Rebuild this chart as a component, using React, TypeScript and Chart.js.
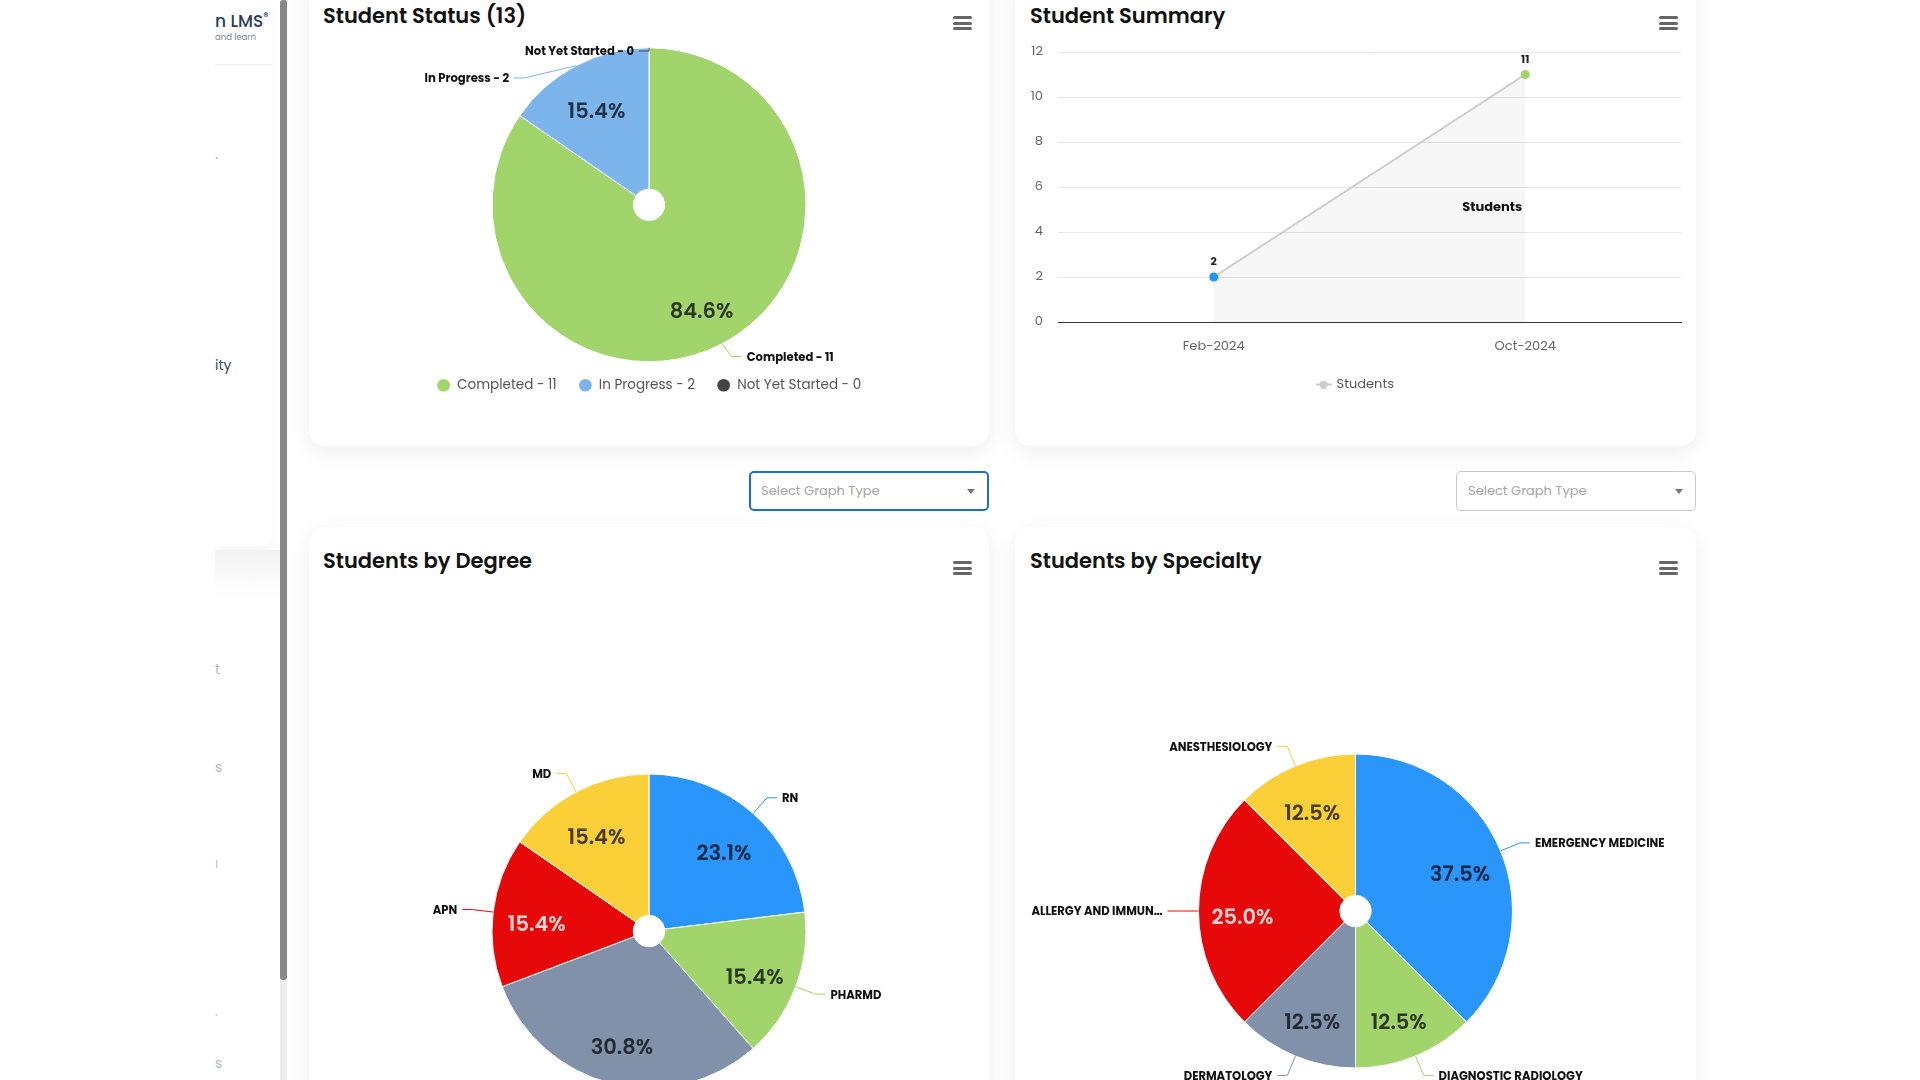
import React, { useEffect, useRef } from 'react';
import { Chart, registerables } from 'chart.js';

Chart.register(...registerables);

const FONT = 'Poppins, "Open Sans", sans-serif';

// ---------- data ----------
const statusLabels = ['Completed', 'In Progress', 'Not Yet Started'];
const statusValues = [11, 2, 0];
const statusColors = ['#a1d46a', '#7cb5ec', '#434348'];
const statusTextColors = ['#2c3722', '#1d3045', '#ffffff'];

const summaryLabels = ['Feb-2024', 'Oct-2024'];
const summaryValues = [2, 11];
const summaryPointColors = ['#2196f3', '#a1d46a'];
const summaryTicks = [0, 2, 4, 6, 8, 10, 12];

const degreeLabels = ['RN', 'PHARMD', 'NP', 'APN', 'MD'];
const degreeValues = [3, 2, 4, 2, 2];
const degreeColors = ['#2a96fc', '#a1d46a', '#8291aa', '#e60808', '#fbcf37'];
const degreeTextColors = ['#0e2743', '#2a381b', '#242a33', '#ffd4d4', '#463a0e'];

const specialtyLabels = ['EMERGENCY MEDICINE', 'DIAGNOSTIC RADIOLOGY', 'DERMATOLOGY', 'ALLERGY AND IMMUNOLOGY', 'ANESTHESIOLOGY'];
const specialtyValues = [3, 1, 1, 2, 1];
const specialtyColors = ['#2a96fc', '#a1d46a', '#8291aa', '#e60808', '#fbcf37'];
const specialtyTextColors = ['#0e2743', '#2a381b', '#242a33', '#ffd4d4', '#463a0e'];

// ---------- plugins ----------
const pieLabelsPlugin = {
  id: 'pieLabels',
  afterDatasetsDraw(chart: any, _args: any, opts: any) {
    const { ctx, chartArea } = chart;
    const meta = chart.getDatasetMeta(0);
    const ds = chart.data.datasets[0];
    const values: number[] = ds.data;
    const total = values.reduce((a, b) => a + b, 0);
    const names: string[] = chart.data.labels;
    ctx.save();
    ctx.textAlign = 'center';
    ctx.textBaseline = 'middle';
    ctx.font = `600 21px ${FONT}`;
    const items: any[] = [];
    meta.data.forEach((arc: any, i: number) => {
      const p = arc.getProps(['x', 'y', 'startAngle', 'endAngle', 'outerRadius'], true);
      const mid = (p.startAngle + p.endAngle) / 2;
      const cos = Math.cos(mid);
      const sin = Math.sin(mid);
      if (values[i] > 0) {
        const rr = p.outerRadius * opts.innerRatio;
        ctx.fillStyle = opts.innerColors[i];
        ctx.fillText(`${((values[i] / total) * 100).toFixed(1)}%`, p.x + cos * rr, p.y + sin * rr + opts.innerDy);
      }
      const R = p.outerRadius + opts.distance;
      items.push({
        i, cx: p.x, cy: p.y, r: p.outerRadius, R, cos, sin,
        side: cos < 0 ? -1 : 1,
        nx: p.x + cos * R, ny: p.y + sin * R,
      });
    });
    const minY = chartArea.top + opts.topInset;
    const maxY = chartArea.bottom - opts.bottomInset;
    [-1, 1].forEach((side) => {
      const list = items.filter((it) => it.side === side).sort((a, b) => a.ny - b.ny);
      list.forEach((it) => { it.y = Math.min(Math.max(it.ny, minY), maxY); it.moved = false; });
      for (let k = 1; k < list.length; k++) {
        if (list[k].y < list[k - 1].y + opts.gap) { list[k].y = list[k - 1].y + opts.gap; list[k].moved = true; }
      }
      for (let k = list.length - 2; k >= 0; k--) {
        if (list[k].y > list[k + 1].y - opts.gap) { list[k].y = list[k + 1].y - opts.gap; list[k].moved = true; }
      }
      list.forEach((it) => {
        if (it.moved) {
          const dy = it.y - it.cy;
          it.x = it.cx + side * Math.sqrt(Math.max(0, it.R * it.R - dy * dy));
        } else {
          it.x = it.nx;
        }
      });
    });
    ctx.font = `bold 11.6px ${FONT}`;
    ctx.textBaseline = 'middle';
    items.forEach((it) => {
      const color = ds.backgroundColor[it.i];
      const x0 = it.cx + it.cos * it.r;
      const y0 = it.cy + it.sin * it.r;
      const x2 = it.x + it.side * 10;
      ctx.strokeStyle = color;
      ctx.lineWidth = 1;
      ctx.beginPath();
      ctx.moveTo(x0, y0);
      ctx.lineTo(it.x, it.y);
      ctx.lineTo(x2, it.y);
      ctx.stroke();
      let text = opts.withValue ? `${names[it.i]} - ${values[it.i]}` : names[it.i];
      const tx = x2 + it.side * 5;
      const avail = it.side < 0 ? tx - opts.minX : chart.width - opts.minX - tx;
      if (ctx.measureText(text).width > avail) {
        let t = text;
        while (t.length > 1 && ctx.measureText(t + '…').width > avail) t = t.slice(0, -1);
        text = t + '…';
      }
      ctx.fillStyle = '#111111';
      ctx.textAlign = it.side < 0 ? 'right' : 'left';
      ctx.fillText(text, tx, it.y + 1.5);
    });
    ctx.restore();
  },
};

const lineLabelsPlugin = {
  id: 'lineLabels',
  afterDatasetsDraw(chart: any, _args: any, opts: any) {
    const { ctx } = chart;
    const meta = chart.getDatasetMeta(0);
    const data: number[] = chart.data.datasets[0].data;
    ctx.save();
    ctx.font = `bold 11px ${FONT}`;
    ctx.fillStyle = '#222222';
    ctx.textAlign = 'center';
    ctx.textBaseline = 'middle';
    meta.data.forEach((pt: any, i: number) => ctx.fillText(String(data[i]), pt.x, pt.y - 14.5));
    const xs = chart.scales.x;
    const ys = chart.scales.y;
    ctx.font = `bold 13px ${FONT}`;
    ctx.fillStyle = '#111111';
    ctx.fillText(opts.text, xs.getPixelForValue(opts.index) + opts.dx, ys.getPixelForValue(opts.value));
    ctx.restore();
  },
};

function makeLineMarker() {
  const c = document.createElement('canvas');
  c.width = 16;
  c.height = 8;
  const g = c.getContext('2d')!;
  g.strokeStyle = '#cccccc';
  g.lineWidth = 2;
  g.beginPath();
  g.moveTo(0, 4);
  g.lineTo(16, 4);
  g.stroke();
  g.fillStyle = '#cccccc';
  g.beginPath();
  g.arc(8, 4, 4, 0, Math.PI * 2);
  g.fill();
  return c;
}

// ---------- configs ----------
function statusConfig(): any {
  return {
    type: 'pie',
    data: {
      labels: statusLabels,
      datasets: [{ data: statusValues, backgroundColor: statusColors, borderColor: '#ffffff', borderWidth: 1, radius: 157, cutout: '10%' }],
    },
    options: {
      responsive: false, animation: false, events: [],
      layout: { padding: { top: 53, bottom: 18, left: 0, right: 0 } },
      plugins: {
        legend: {
          position: 'bottom',
          labels: {
            usePointStyle: true, boxWidth: 14, boxHeight: 9, padding: 22, color: '#555555',
            font: { family: FONT, size: 13.5 },
            generateLabels: () => statusLabels.map((l, i) => ({
              text: `${l} - ${statusValues[i]}`, fillStyle: statusColors[i], strokeStyle: statusColors[i],
              lineWidth: 0, pointStyle: 'circle', hidden: false, index: i, fontColor: '#555555',
            })),
          },
        },
        tooltip: { enabled: false },
        pieLabels: { innerRatio: 0.72, innerDy: 8, innerColors: statusTextColors, distance: 21, gap: 27, topInset: -2, bottomInset: 0, minX: 12, withValue: true },
      },
    },
    plugins: [pieLabelsPlugin],
  };
}

function summaryConfig(): any {
  const marker = makeLineMarker();
  const tickFont = { family: FONT, size: 13 };
  return {
    type: 'line',
    data: {
      labels: summaryLabels,
      datasets: [{
        label: 'Students', data: summaryValues, borderColor: '#cccccc', borderWidth: 2,
        backgroundColor: 'rgba(0,0,0,0.03)', fill: 'origin', tension: 0,
        pointRadius: 4.5, pointBorderWidth: 0, pointBackgroundColor: summaryPointColors,
      }],
    },
    options: {
      responsive: false, animation: false, events: [],
      layout: { padding: { top: 52, bottom: 19, left: 15, right: 15 } },
      scales: {
        x: {
          offset: true,
          grid: { display: false, drawTicks: false },
          border: { display: true, color: '#333333', width: 1 },
          ticks: { color: '#666666', font: tickFont, padding: 17 },
          afterFit: (s: any) => { s.height = 36; },
        },
        y: {
          min: 0, max: 12,
          afterBuildTicks: (s: any) => { s.ticks = summaryTicks.map((v) => ({ value: v })); },
          ticks: { color: '#666666', font: tickFont, padding: 15 },
          grid: { color: (c: any) => (c.tick && c.tick.value === 0 ? 'rgba(0,0,0,0)' : '#e6e6e6'), drawTicks: false },
          border: { display: false },
          afterFit: (s: any) => { s.width = 28; },
        },
      },
      plugins: {
        legend: {
          position: 'bottom',
          labels: {
            usePointStyle: true, padding: 20, color: '#555555', font: { family: FONT, size: 13 },
            generateLabels: () => [{ text: 'Students', pointStyle: marker, fillStyle: '#cccccc', strokeStyle: '#cccccc', lineWidth: 0, hidden: false, datasetIndex: 0, fontColor: '#555555' }],
          },
        },
        tooltip: { enabled: false },
        lineLabels: { text: 'Students', index: 1, dx: -33, value: 5.1 },
      },
    },
    plugins: [lineLabelsPlugin],
  };
}

function pieConfig(labels: string[], values: number[], colors: string[], textColors: string[]): any {
  return {
    type: 'pie',
    data: {
      labels,
      datasets: [{ data: values, backgroundColor: colors, borderColor: '#ffffff', borderWidth: 1, radius: 157, cutout: '10%' }],
    },
    options: {
      responsive: false, animation: false, events: [],
      layout: { padding: 0 },
      plugins: {
        legend: { display: false },
        tooltip: { enabled: false },
        pieLabels: { innerRatio: 0.72, innerDy: 8, innerColors: textColors, distance: 21, gap: 27, topInset: 0, bottomInset: 0, minX: 12, withValue: false },
      },
    },
    plugins: [pieLabelsPlugin],
  };
}

// ---------- components ----------
function ChartCanvas({ make, left, top, width, height }: { make: () => any; left: number; top: number; width: number; height: number }) {
  const ref = useRef<HTMLCanvasElement>(null);
  useEffect(() => {
    const chart = new Chart(ref.current!, make());
    return () => chart.destroy();
  }, []);
  return (
    <canvas ref={ref} width={width} height={height}
      style={{ position: 'absolute', left, top, width, height, display: 'block' }} />
  );
}

function Card({ left, top, width, height }: { left: number; top: number; width: number; height: number }) {
  return (
    <div style={{
      position: 'absolute', left, top, width, height, background: '#ffffff', borderRadius: 16,
      boxShadow: '0 6px 22px rgba(0,0,0,0.07)',
    }} />
  );
}

function Title({ left, top, text }: { left: number; top: number; text: string }) {
  return (
    <div style={{
      position: 'absolute', left, top, height: 30, lineHeight: '30px', fontSize: 21, fontWeight: 600,
      color: '#111111', whiteSpace: 'nowrap', fontFamily: FONT,
    }}>{text}</div>
  );
}

function Burger({ left, top }: { left: number; top: number }) {
  const bar = (t: number) => (
    <div style={{ position: 'absolute', left: 0, top: t, width: 19, height: 3, borderRadius: 1.5, background: '#666666' }} />
  );
  return (
    <div style={{ position: 'absolute', left, top, width: 19, height: 14 }}>
      {bar(0)}{bar(5.5)}{bar(11)}
    </div>
  );
}

function Select({ left, top, focused }: { left: number; top: number; focused: boolean }) {
  return (
    <div style={{
      position: 'absolute', left, top, width: 240, height: 40, boxSizing: 'border-box', borderRadius: 5,
      border: focused ? '2px solid #1a6fd6' : '1px solid #c8c8c8', background: '#ffffff',
    }}>
      <div style={{
        position: 'absolute', left: focused ? 10 : 11, top: 0, bottom: 0, display: 'flex', alignItems: 'center',
        fontSize: 13, color: '#a6a6a6', fontFamily: FONT,
      }}>Select Graph Type</div>
      <div style={{
        position: 'absolute', right: 12, top: '50%', marginTop: -2, width: 0, height: 0,
        borderLeft: '4px solid transparent', borderRight: '4px solid transparent', borderTop: '5px solid #777777',
      }} />
    </div>
  );
}

function SideText({ top, left, text, size, color, weight }: { top: number; left: number; text: React.ReactNode; size: number; color: string; weight?: number }) {
  return (
    <div style={{
      position: 'absolute', left, top, fontSize: size, color, fontWeight: weight ?? 400,
      whiteSpace: 'nowrap', fontFamily: FONT, lineHeight: 1,
    }}>{text}</div>
  );
}

export default function App() {
  return (
    <div style={{
      position: 'fixed', left: 0, top: 0, width: 1920, height: 1080, overflow: 'hidden',
      background: '#ffffff', fontFamily: FONT,
    }}>
      {/* sidebar (clipped) */}
      <div style={{ position: 'absolute', left: 215, top: 0, width: 65, height: 1080, overflow: 'hidden', background: '#ffffff' }}>
        <div style={{ position: 'absolute', left: 0, top: 0, width: 57, height: 547, background: '#ffffff', borderBottomRightRadius: 10, boxShadow: '0 8px 14px rgba(0,0,0,0.04)' }} />
        <div style={{ position: 'absolute', left: 0, top: 550, width: 65, height: 50, background: 'linear-gradient(#f3f3f3, #ffffff)' }} />
        <SideText left={0} top={12} text={<span>n LMS<sup style={{ fontSize: 10 }}>®</sup></span>} size={17} color="#2a3b5c" weight={500} />
        <SideText left={0} top={33} text="and learn" size={8.5} color="#7b8699" />
        <div style={{ position: 'absolute', left: 0, top: 64, width: 57, height: 1, background: '#eeeeee' }} />
        <SideText left={0} top={147} text="." size={14} color="#9aa3b5" />
        <SideText left={0} top={358} text="ity" size={14} color="#3c4a66" />
        <SideText left={0} top={662} text="t" size={14} color="#b3b9c6" />
        <SideText left={0} top={760} text="s" size={14} color="#b3b9c6" />
        <SideText left={0} top={856} text="ı" size={14} color="#c3c8d2" />
        <SideText left={0} top={1004} text="." size={14} color="#c3c8d2" />
        <SideText left={0} top={1056} text="s" size={14} color="#b3b9c6" />
      </div>
      {/* scrollbar */}
      <div style={{ position: 'absolute', left: 280, top: 980, width: 7, height: 100, background: '#ececec' }} />
      <div style={{ position: 'absolute', left: 280, top: 0, width: 7, height: 980, background: '#888888', borderRadius: 3 }} />

      {/* cards */}
      <Card left={309} top={-30} width={680} height={476} />
      <Card left={1015} top={-30} width={681} height={476} />
      <Card left={309} top={527} width={680} height={620} />
      <Card left={1015} top={527} width={681} height={620} />

      <Title left={323} top={1} text="Student Status (13)" />
      <Title left={1030} top={1} text="Student Summary" />
      <Title left={323} top={546} text="Students by Degree" />
      <Title left={1030} top={546} text="Students by Specialty" />

      <Burger left={953} top={16} />
      <Burger left={1659} top={16} />
      <Burger left={953} top={561} />
      <Burger left={1659} top={561} />

      <Select left={749} top={471} focused={true} />
      <Select left={1456} top={471} focused={false} />

      <ChartCanvas make={statusConfig} left={309} top={0} width={680} height={420} />
      <ChartCanvas make={summaryConfig} left={1015} top={0} width={681} height={420} />
      <ChartCanvas make={() => pieConfig(degreeLabels, degreeValues, degreeColors, degreeTextColors)} left={309} top={600} width={680} height={662} />
      <ChartCanvas make={() => pieConfig(specialtyLabels, specialtyValues, specialtyColors, specialtyTextColors)} left={1015} top={580} width={681} height={662} />
    </div>
  );
}
